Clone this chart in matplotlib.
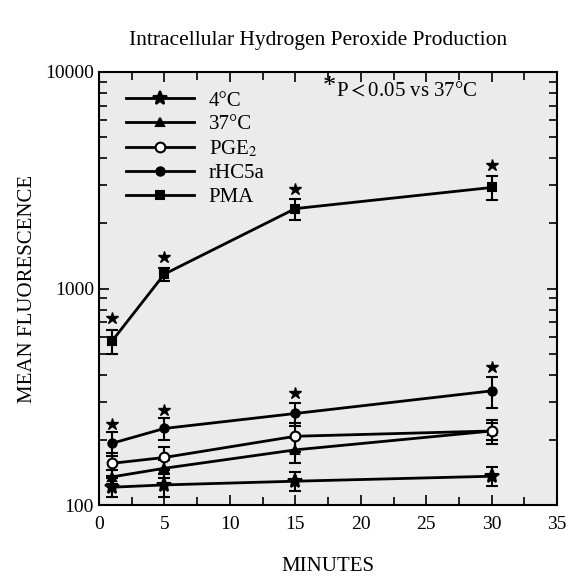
import matplotlib.pyplot as plt
import numpy as np

plt.rcParams['font.family'] = ['Liberation Serif', 'DejaVu Serif']
plt.rcParams['mathtext.fontset'] = 'stix'

minutes = [1, 5, 15, 30]

# mean fluorescence and SEM for each condition
c4 = [121, 124, 129, 136]
c4_err = [12, 15, 13, 14]
c37 = [135, 148, 180, 220]
c37_err = [10, 14, 24, 20]
pge2 = [156, 166, 208, 220]
pge2_err = [19, 20, 32, 28]
rhc5a = [193, 226, 265, 337]
rhc5a_err = [24, 26, 32, 55]
pma = [572, 1166, 2340, 2930]
pma_err = [72, 85, 260, 370]

# significance stars (P<0.05 vs 37C)
sig_hi = [731, 1399, 2882, 3719]
sig_lo = [237, 275, 329, 434]

fig = plt.figure(figsize=(5.68, 5.76), dpi=100)
ax = fig.add_axes([0.174, 0.123, 0.807, 0.752])
ax.set_facecolor('#ebebeb')

series = [
    (c4, c4_err, '*', 'black', 10, '4°C'),
    (c37, c37_err, '^', 'black', 6, '37°C'),
    (pge2, pge2_err, 'o', 'white', 7, 'PGE$_2$'),
    (rhc5a, rhc5a_err, 'o', 'black', 6, 'rHC5a'),
    (pma, pma_err, 's', 'black', 6, 'PMA'),
]
for y, err, m, fc, ms, lab in series:
    ax.errorbar(minutes, y, yerr=err, fmt='none', ecolor='black',
                elinewidth=1.5, capsize=4, capthick=1.5, zorder=2)
    ax.plot(minutes, y, color='black', lw=2, marker=m, mfc=fc, mec='black',
            mew=1.5, ms=ms, label=lab, zorder=3)

ax.plot(minutes, sig_hi, ls='none', marker='*', color='black', ms=9)
ax.plot(minutes, sig_lo, ls='none', marker='*', color='black', ms=9)

ax.set_yscale('log')
ax.set_ylim(100, 10000)
ax.set_xlim(0, 35)
ax.set_xticks(np.arange(0, 36, 5))
ax.set_xticks(np.arange(0, 36, 2.5), minor=True)
ax.set_yticks([100, 1000, 10000])
ax.set_yticklabels(['100', '1000', '10000'])
ax.tick_params(which='both', direction='in', top=True, right=True,
               labelsize=14, width=1.2)
ax.tick_params(which='major', length=7)
ax.tick_params(which='minor', length=6)
ax.tick_params(axis='x', which='both', pad=8)
for s in ax.spines.values():
    s.set_linewidth(1.5)

ax.set_xlabel('MINUTES', fontsize=15, labelpad=17)
ax.set_ylabel('MEAN FLUORESCENCE', fontsize=15, labelpad=6)
fig.suptitle('Intracellular Hydrogen Peroxide Production', fontsize=15.5,
             x=0.56, y=0.947)

ax.text(0.517, 0.966, '*', transform=ax.transAxes, fontsize=19,
        va='center', ha='right')
ax.text(0.518, 0.955, 'P$<$0.05 vs 37°C', transform=ax.transAxes,
        fontsize=15, va='center')

ax.legend(loc='upper left', bbox_to_anchor=(0.04, 0.975), frameon=False,
          fontsize=15, handlelength=3.3, labelspacing=0.2,
          handletextpad=0.7, borderaxespad=0)

fig.savefig('out.png', dpi=100)
